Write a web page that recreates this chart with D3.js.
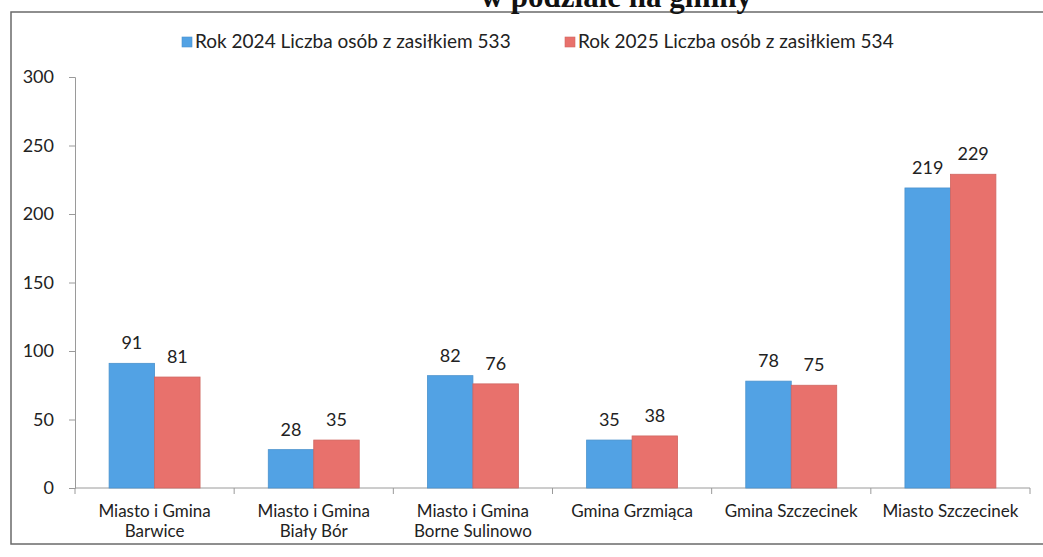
<!DOCTYPE html>
<html><head><meta charset="utf-8">
<script src="https://cdn.jsdelivr.net/npm/d3@7"></script>
<style>body{margin:0;background:#fff}svg{display:block}</style>
</head><body>
<svg id="c" width="1043" height="557"></svg>
<script>
const titleText = "w podziale na gminy";
const categories = [
  ["Miasto i Gmina", "Barwice"],
  ["Miasto i Gmina", "Biały Bór"],
  ["Miasto i Gmina", "Borne Sulinowo"],
  ["Gmina Grzmiąca"],
  ["Gmina Szczecinek"],
  ["Miasto Szczecinek"]
];
const seriesNames = ["Rok 2024 Liczba osób z zasiłkiem 533", "Rok 2025 Liczba osób z zasiłkiem 534"];
const values2024 = [91, 28, 82, 35, 78, 219];
const values2025 = [81, 35, 76, 38, 75, 229];
const yTicks = [0, 50, 100, 150, 200, 250, 300];
const colors = ["#52a2e4", "#e8716c"];

const svg = d3.select("#c");
const font = "Lato, 'Open Sans', sans-serif";

// frame
svg.append("rect").attr("x", 11).attr("y", 12).attr("width", 1060).attr("height", 532)
  .attr("fill", "#fff").attr("stroke", "#6a6a6a").attr("stroke-width", 1.5);

// title (cut off at top in the reference)
svg.append("text").attr("x", 752).attr("y", 7).attr("text-anchor", "end")
  .attr("font-family", "'Liberation Serif', serif").attr("font-weight", "bold")
  .attr("font-size", 31).attr("fill", "#111").text(titleText);

const catKeys = categories.map(c => c.join(" "));
const x0 = d3.scaleBand().domain(catKeys).range([75, 1030]).paddingInner(0).paddingOuter(0);
const x1 = d3.scaleBand().domain([0, 1]).range([0, x0.bandwidth()]).paddingInner(0).paddingOuter(0.75);
const y = d3.scaleLinear().domain([0, 300]).range([488, 77]);

// y axis
const yAxis = svg.append("g").attr("transform", "translate(75,0)")
  .call(d3.axisLeft(y).tickValues(yTicks).tickSize(6).tickPadding(15));
yAxis.select(".domain").attr("stroke", "#9a9a9a");
yAxis.selectAll(".tick line").attr("stroke", "#9a9a9a");
yAxis.selectAll(".tick text").attr("font-family", font).attr("font-size", 18).attr("fill", "#222");

// x axis
const xAxis = svg.append("g").attr("transform", "translate(0,488)");
xAxis.append("line").attr("x1", 75).attr("x2", 1030).attr("stroke", "#9a9a9a");
const bounds = catKeys.map(k => x0(k)).concat([x0.range()[1]]);
xAxis.selectAll("line.tk").data(bounds).join("line").attr("class", "tk")
  .attr("x1", d => d).attr("x2", d => d).attr("y1", 0).attr("y2", 6).attr("stroke", "#9a9a9a");

// category labels
categories.forEach((c, i) => {
  const cx = x0(catKeys[i]) + x0.bandwidth() / 2;
  const t = svg.append("text").attr("text-anchor", "middle")
    .attr("font-family", font).attr("font-size", 17).attr("fill", "#222");
  c.forEach((line, j) => {
    t.append("tspan").attr("x", cx).attr("y", 517 + j * 20).text(line);
  });
});

// bars
const series = [values2024, values2025];
series.forEach((vals, s) => {
  const g = svg.append("g");
  g.selectAll("rect").data(vals).join("rect")
    .attr("x", (d, i) => x0(catKeys[i]) + x1(s))
    .attr("y", d => y(d))
    .attr("width", x1.bandwidth())
    .attr("height", d => y(0) - y(d))
    .attr("fill", colors[s])
    .attr("stroke", d3.color(colors[s]).darker(0.3)).attr("stroke-width", 0.8);
  g.selectAll("text").data(vals).join("text")
    .attr("x", (d, i) => x0(catKeys[i]) + x1(s) + x1.bandwidth() / 2)
    .attr("y", d => y(d) - 14)
    .attr("text-anchor", "middle")
    .attr("font-family", font).attr("font-size", 18).attr("fill", "#222")
    .text(d => d);
});

// legend
const legendX = [182, 565];
seriesNames.forEach((n, i) => {
  svg.append("rect").attr("x", legendX[i]).attr("y", 37).attr("width", 10).attr("height", 10)
    .attr("fill", colors[i]).attr("stroke", d3.color(colors[i]).darker(0.3)).attr("stroke-width", 0.6);
  svg.append("text").attr("x", legendX[i] + 13).attr("y", 48)
    .attr("font-family", font).attr("font-size", 19).attr("fill", "#222").text(n);
});
</script>
</body></html>
